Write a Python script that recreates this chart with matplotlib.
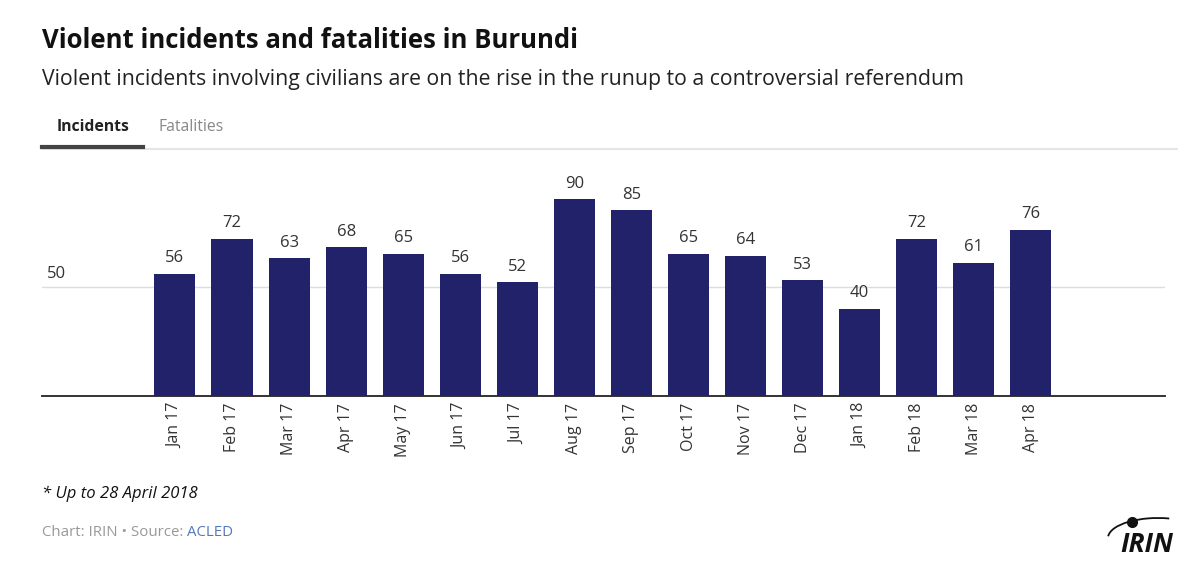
import matplotlib.pyplot as plt
from matplotlib.patches import Arc

plt.rcParams["font.family"] = ["Open Sans", "DejaVu Sans"]

months = ["Jan 17", "Feb 17", "Mar 17", "Apr 17", "May 17", "Jun 17", "Jul 17", "Aug 17",
          "Sep 17", "Oct 17", "Nov 17", "Dec 17", "Jan 18", "Feb 18", "Mar 18", "Apr 18"]
incidents = [56, 72, 63, 68, 65, 56, 52, 90, 85, 65, 64, 53, 40, 72, 61, 76]

BAR = "#22226b"

fig = plt.figure(figsize=(11.78, 5.71), dpi=100)
ax = fig.add_axes([42 / 1178, 1 - 396 / 571, (1165 - 42) / 1178, (396 - 160) / 571])

x = list(range(len(months)))
bars = ax.bar(x, incidents, width=0.72, color=BAR, zorder=3)
for xi, v in zip(x, incidents):
    ax.text(xi, v + 3.5, str(v), ha="center", va="bottom", fontsize=12, color="#333333")

ax.set_xlim(-2.33, 17.35)
ax.set_ylim(0, 108)
ax.axhline(50, color="#dddddd", lw=1, zorder=1)
ax.text(-2.25, 52, "50", fontsize=12, color="#333333", va="bottom", ha="left")

ax.set_xticks(x)
ax.set_xticklabels(months, rotation=90, fontsize=11.5, color="#333333")
ax.tick_params(axis="x", length=0, pad=5)
ax.set_yticks([])
for s in ["top", "right", "left"]:
    ax.spines[s].set_visible(False)
ax.spines["bottom"].set_color("#333333")
ax.spines["bottom"].set_linewidth(1.4)

# header
fig.text(42 / 1178, 1 - 40 / 571, "Violent incidents and fatalities in Burundi",
         fontsize=18.5, fontweight="bold", color="#111111", va="center")
fig.text(42 / 1178, 1 - 80 / 571,
         "Violent incidents involving civilians are on the rise in the runup to a controversial referendum",
         fontsize=15.3, color="#222222", va="center")

# tabs
fig.text(57 / 1178, 1 - 127 / 571, "Incidents", fontsize=11.3, fontweight="bold", color="#222222", va="center")
fig.text(158 / 1178, 1 - 127 / 571, "Fatalities", fontsize=11.3, color="#888888", va="center")
fig.add_artist(plt.Line2D([42 / 1178, 1], [1 - 149 / 571] * 2, color="#e6e6e6", lw=1.5))
fig.add_artist(plt.Line2D([42 / 1178, 143 / 1178], [1 - 147 / 571] * 2, color="#444444", lw=3))

# footer
fig.text(42 / 1178, 1 - 494 / 571, "* Up to 28 April 2018", fontsize=12, style="italic",
         color="#111111", va="center")
t = fig.text(42 / 1178, 1 - 532 / 571, "Chart: IRIN \u2022 Source: ", fontsize=10.8,
             color="#999999", va="center")
fig.canvas.draw()
bb = t.get_window_extent()
fig.text(bb.x1 / 1178, 1 - 532 / 571, "ACLED", fontsize=10.8, color="#5577bb", va="center")

# logo
fig.text(1120 / 1178, 1 - 545 / 571, "IRIN", fontsize=19, fontweight="bold", style="italic",
         color="#111111", va="center")
lax = fig.add_axes([1100 / 1178, 1 - 566 / 571, 78 / 1178, 60 / 571])
lax.set_xlim(0, 78)
lax.set_ylim(0, 60)
lax.axis("off")
lax.add_patch(Arc((58, 28), 100, 40, theta1=60, theta2=178, color="#111111", lw=1.3))
lax.plot([32], [44], "o", color="#111111", ms=7)

fig.savefig("out.png", dpi=100)
